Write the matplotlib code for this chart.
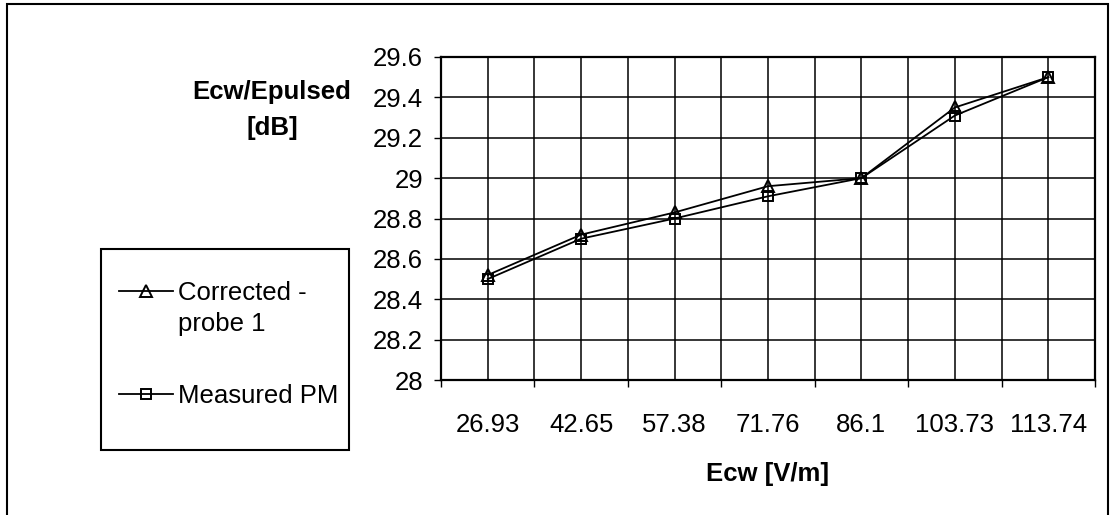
import numpy as np
import matplotlib
matplotlib.use('Agg')
import matplotlib.pyplot as plt
from matplotlib.patches import Rectangle
from matplotlib.legend_handler import HandlerLine2D

# data
ecw_labels = ['26.93', '42.65', '57.38', '71.76', '86.1', '103.73', '113.74']
corrected_probe1 = [28.52, 28.72, 28.83, 28.96, 29.0, 29.35, 29.5]
measured_pm = [28.50, 28.70, 28.80, 28.91, 29.0, 29.31, 29.5]
y_ticks = [28, 28.2, 28.4, 28.6, 28.8, 29, 29.2, 29.4, 29.6]
y_ticklabels = ['28', '28.2', '28.4', '28.6', '28.8', '29', '29.2', '29.4', '29.6']

plt.rcParams['font.family'] = ['Liberation Sans', 'DejaVu Sans']
fs = 18.5
W, H = 1111, 515


class FirstLineHandler(HandlerLine2D):
    # put the legend symbol next to the first line of a two-line label
    def __init__(self, shift, **kw):
        super().__init__(**kw)
        self.shift = shift

    def create_artists(self, legend, orig_handle, xdescent, ydescent,
                       width, height, fontsize, trans):
        arts = super().create_artists(legend, orig_handle, xdescent, ydescent,
                                      width, height, fontsize, trans)
        for a in arts:
            a.set_ydata(np.asarray(a.get_ydata()) + self.shift)
        return arts


fig = plt.figure(figsize=(W / 100, H / 100), dpi=100)
ax = fig.add_axes([441 / W, 1 - 380 / H, 654 / W, 323 / H])

x = np.arange(len(ecw_labels))
l1, = ax.plot(x, corrected_probe1, color='black', lw=1.3, marker='^', ms=8,
              mfc='none', mec='black', mew=1.4, label='Corrected -\nprobe 1')
l2, = ax.plot(x, measured_pm, color='black', lw=1.3, marker='s', ms=7.5,
              mfc='none', mec='black', mew=1.4, label='Measured PM')

ax.set_xlim(-0.5, len(ecw_labels) - 0.5)
ax.set_ylim(28, 29.6)

ax.set_xticks(x)
ax.set_xticklabels(ecw_labels, fontsize=fs)
ax.set_xticks(np.arange(-0.5, len(ecw_labels), 1), minor=True)
ax.tick_params(axis='x', which='major', length=0, pad=24)
ax.tick_params(axis='x', which='minor', length=5, width=1, direction='out', color='black')
ax.set_yticks(y_ticks)
ax.set_yticklabels(y_ticklabels, fontsize=fs)
ax.tick_params(axis='y', length=5, width=1, direction='out', pad=8)

ax.grid(True, which='both', axis='x', color='black', lw=1.1)
ax.grid(True, which='major', axis='y', color='black', lw=1.1)
ax.set_axisbelow(True)
for side in ax.spines:
    ax.spines[side].set_linewidth(1.6)

ax.set_xlabel('Ecw [V/m]', fontsize=fs, fontweight='bold', labelpad=18)
ax.set_ylabel('Ecw/Epulsed\n[dB]', fontsize=fs, fontweight='bold', rotation=0,
              ha='center', va='center', linespacing=1.6)
ax.yaxis.set_label_coords((272 - 441) / 654, 1 - (110 - 57) / 323)

# legend frame and entries
fig.patches.append(Rectangle((101 / W, 1 - 450 / H), 248 / W, 201 / H,
                             transform=fig.transFigure, fill=False,
                             ec='black', lw=1.5))
leg = ax.legend(handles=[l1, l2], loc='upper left',
                bbox_to_anchor=(119 / W, 1 - 281 / H),
                bbox_transform=fig.transFigure, frameon=False, fontsize=fs,
                borderpad=0, borderaxespad=0, handlelength=2.1,
                handletextpad=0.2, labelspacing=1.9,
                handler_map={l1: FirstLineHandler(shift=13)})
leg.get_texts()[0].set_linespacing(1.35)

# outer border of the figure
fig.patches.append(Rectangle((7 / W, -0.02), 1101 / W, 1.02 - 4 / H,
                             transform=fig.transFigure, fill=False,
                             ec='black', lw=1.5))

fig.savefig('out.png', dpi=100)
